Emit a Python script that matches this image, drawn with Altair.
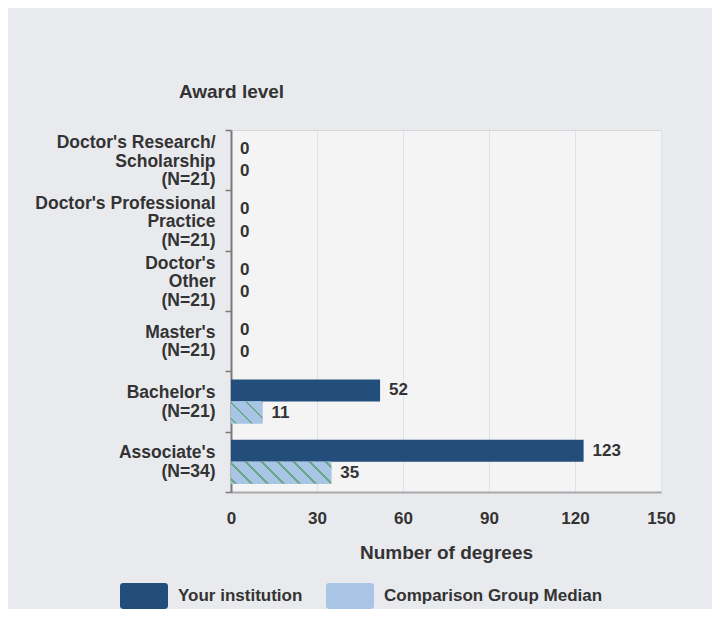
import altair as alt
import pandas as pd

categories = [
    "Doctor's Research/|Scholarship|(N=21)",
    "Doctor's Professional|Practice|(N=21)",
    "Doctor's|Other|(N=21)",
    "Master's|(N=21)",
    "Bachelor's|(N=21)",
    "Associate's|(N=34)",
]
series = ["Your institution", "Comparison Group Median"]
your_values = [0, 0, 0, 0, 52, 123]
median_values = [0, 0, 0, 0, 11, 35]
x_ticks = [0, 30, 60, 90, 120, 150]

rows = []
for c, a, b in zip(categories, your_values, median_values):
    rows.append({"cat": c, "series": series[0], "value": a})
    rows.append({"cat": c, "series": series[1], "value": b})
df = pd.DataFrame(rows)

DARK = "#234e7b"
LIGHT = "#a8c5e5"
STRIPE = "#6aa886"
TEXT = "#333333"
FONT = "Liberation Sans"

PLOT_W, PLOT_H = 430, 362
X_MAX = 150
OFF_PAD = 0.371

y_enc = alt.Y(
    "cat:N",
    sort=categories,
    scale=alt.Scale(paddingInner=0, paddingOuter=0),
    axis=alt.Axis(
        title="Award level",
        titleAngle=0,
        titleX=0,
        titleY=-39,
        titleAlign="center",
        titleBaseline="middle",
        titleFontSize=19,
        titleFontWeight="bold",
        titleColor=TEXT,
        titleFont=FONT,
        labelExpr="split(datum.label, '|')",
        labelFont=FONT,
        labelFontSize=17.5,
        labelFontWeight="bold",
        labelColor=TEXT,
        labelLineHeight=18.5,
        labelPadding=10,
        labelLimit=400,
        labelOffset={
            "condition": {"test": "length(split(datum.label, '|')) >= 3", "value": -17.5},
            "value": -9,
        },
        tickSize=6,
        tickBand="extent",
        tickColor="#7a7a7a",
        tickWidth=1.5,
        domainColor="#7a7a7a",
        domainWidth=2,
        grid=False,
    ),
)
yoff_enc = alt.YOffset(
    "series:N", sort=series,
    scale=alt.Scale(domain=series, paddingInner=0, paddingOuter=OFF_PAD),
)
x_enc = alt.X(
    "value:Q",
    scale=alt.Scale(domain=[0, X_MAX], nice=False),
    axis=alt.Axis(
        values=x_ticks,
        title="Number of degrees",
        titleY=60,
        titleBaseline="middle",
        titleFontSize=19,
        titleFontWeight="bold",
        titleColor=TEXT,
        titleFont=FONT,
        labelFont=FONT,
        labelFontSize=17,
        labelFontWeight="bold",
        labelColor=TEXT,
        labelBaseline="middle",
        labelPadding=26,
        labelFlush=False,
        ticks=False,
        tickSize=0,
        domainColor="#a8a8a8",
        domainWidth=2,
        grid=True,
        gridColor="#dce2ed",
        gridWidth=1,
    ),
)

rect_path = ("M-0.86,-0.54 L0.86,-0.54 Q1,-0.54 1,-0.4 L1,0.4 Q1,0.54 0.86,0.54 "
             "L-0.86,0.54 Q-1,0.54 -1,0.4 L-1,-0.4 Q-1,-0.54 -0.86,-0.54 Z")

bars = alt.Chart(df).mark_bar().encode(
    x=x_enc,
    y=y_enc,
    yOffset=yoff_enc,
    color=alt.Color(
        "series:N",
        sort=series,
        scale=alt.Scale(domain=series, range=[DARK, LIGHT]),
        legend=alt.Legend(
            title=None,
            orient="none",
            direction="horizontal",
            legendX=-111,
            legendY=442,
            padding=0,
            symbolType=rect_path,
            symbolSize=2304,
            symbolStrokeWidth=0,
            symbolOpacity=1,
            labelFont=FONT,
            labelFontSize=17,
            labelFontWeight="bold",
            labelColor=TEXT,
            labelOffset=10,
            columnPadding=23,
            labelLimit=400,
        ),
    ),
)

# hatch overlays for the comparison bars (diagonal stripes via gradient)
step = PLOT_H / len(categories)
bar_h = step / (2 + 2 * OFF_PAD)
layers = [bars]
for c, v in zip(categories, median_values):
    if v <= 0:
        continue
    W = v * PLOT_W / X_MAX
    H = bar_h
    lam = (W + H) / (W * W + H * H)
    span = W + H
    S = 16.0
    half = 1.2
    stops = [alt.GradientStop(color=LIGHT, offset=0)]
    f = 5.0
    while f < span:
        t0 = max(0.0, (f - half) / span)
        t1 = min(1.0, (f + half) / span)
        stops.append(alt.GradientStop(color=LIGHT, offset=t0))
        stops.append(alt.GradientStop(color=STRIPE, offset=t0))
        stops.append(alt.GradientStop(color=STRIPE, offset=t1))
        stops.append(alt.GradientStop(color=LIGHT, offset=t1))
        f += S
    stops.append(alt.GradientStop(color=LIGHT, offset=1))
    grad = alt.LinearGradient(
        gradient="linear", stops=stops,
        x1=0, y1=1, x2=lam * W, y2=1 - lam * H,
    )
    hatch = alt.Chart(df).transform_filter(
        (alt.datum.cat == c) & (alt.datum.series == series[1])
    ).mark_bar(color=grad).encode(
        x="value:Q",
        y=alt.Y("cat:N", sort=categories),
        yOffset=alt.YOffset("series:N", sort=series),
    )
    layers.append(hatch)

labels = alt.Chart(df).mark_text(
    align="left", baseline="middle", dx=9, font=FONT, fontSize=17, fontWeight="bold", color=TEXT
).encode(
    x="value:Q",
    y=alt.Y("cat:N", sort=categories),
    yOffset=alt.YOffset("series:N", sort=series),
    text="value:Q",
)
layers.append(labels)

chart = alt.layer(*layers).properties(
    width=PLOT_W,
    height=PLOT_H,
    padding={"left": 223, "top": 122, "right": 51, "bottom": 117},
    autosize="none",
    background="#e9eaee",
).configure_view(
    fill="#f4f4f4", stroke="#d6d6d6", strokeWidth=1
)

chart.save("out.html", embed_options={"renderer": "svg", "actions": False})
